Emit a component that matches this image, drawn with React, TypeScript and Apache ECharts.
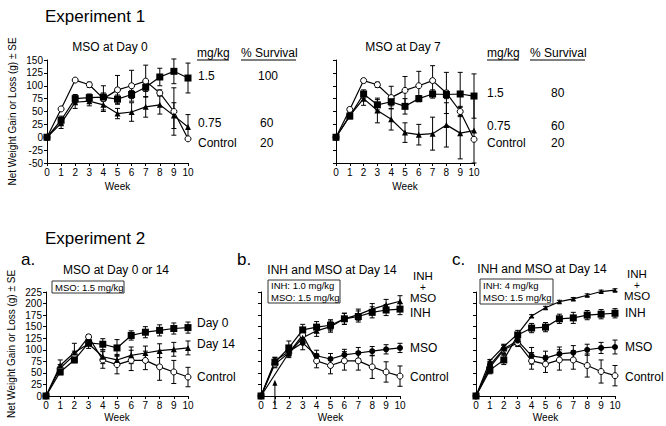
import React, { useEffect, useRef } from "react";
import * as echarts from "echarts";

const F = "'Liberation Sans', Arial, Helvetica, sans-serif";

const weeks = [0, 1, 2, 3, 4, 5, 6, 7, 8, 9, 10];

// Experiment 1 - MSO at Day 0
const e1d0High = [0, 33, 75, 77, 78, 74, 83, 97, 117, 128, 115];
const e1d0HighSE = [0, 8, 8, 7, 8, 8, 8, 8, 17, 24, 29];
const e1d0Low = [0, 27, 68, 70, 63, 46, 49, 59, 63, 42, 20];
const e1d0LowSE = [0, 10, 12, 9, 10, 10, 18, 20, 18, 25, 24];
const e1d0Ctrl = [0, 55, 111, 102, 75, 92, 100, 109, 86, 50, -3];
const e1d0CtrlSE = [0, 3, 3, 5, 25, 28, 30, 31, 6, 46, 0];

// Experiment 1 - MSO at Day 7
const e1d7High = [0, 41, 84, 63, 69, 60, 75, 84, 83, 84, 80];
const e1d7HighSE = [0, 5, 8, 10, 8, 15, 6, 8, 8, 42, 43];
const e1d7Low = [0, 42, 75, 52, 35, 9, 5, 7, 24, 8, 13];
const e1d7LowSE = [0, 5, 13, 24, 21, 19, 20, 32, 43, 50, 63];
const e1d7Ctrl = [0, 54, 110, 102, 77, 91, 100, 110, 86, 50, -4];
const e1d7CtrlSE = [0, 4, 3, 5, 22, 27, 28, 29, 40, 10, 0];

// Experiment 2a - MSO at Day 0 or 14
const e2aDay0 = [0, 52, 78, 115, 112, 104, 131, 138, 142, 146, 148];
const e2aDay0SE = [0, 6, 6, 5, 12, 18, 10, 12, 12, 12, 12];
const e2aDay14 = [0, 66, 94, 113, 85, 78, 88, 93, 98, 101, 104];
const e2aDay14SE = [0, 12, 20, 10, 15, 12, 18, 15, 15, 15, 15];
const e2aCtrl = [0, 60, 89, 128, 78, 68, 77, 77, 63, 52, 41];
const e2aCtrlSE = [0, 8, 8, 5, 18, 20, 22, 20, 29, 25, 21];

// Experiment 2b - INH 1.0 and MSO at Day 14
const e2bBoth = [0, null, 93, 126, 141, 150, 167, 176, 188, 197, 205];
const e2bBothSE = [0, 0, 10, 12, 12, 12, 12, 12, 12, 12, 12];
const e2bInh = [0, 73, 104, 143, 149, 153, 167, 172, 181, 186, 188];
const e2bInhSE = [0, 10, 15, 12, 12, 12, 12, 12, 12, 12, 12];
const e2bMso = [0, 76, 96, 115, 87, 80, 89, 93, 97, 101, 104];
const e2bMsoSE = [0, 8, 8, 15, 12, 12, 12, 12, 10, 10, 10];
const e2bCtrl = [0, 69, 93, 132, 76, 66, 76, 76, 63, 52, 43];
const e2bCtrlSE = [0, 8, 8, 5, 15, 18, 20, 20, 25, 22, 22];
const arrowMarks = [{ week: 1, value: 35 }];

// Experiment 2c - INH 4 and MSO at Day 14
const e2cBoth = [0, 76, 107, 134, 173, 191, 204, 210, 218, 226, 229];
const e2cBothSE = [0, 3, 3, 3, 3, 3, 3, 3, 3, 3, 3];
const e2cInh = [0, 56, 78, 132, 147, 149, 167, 169, 175, 177, 179];
const e2cInhSE = [0, 8, 10, 10, 10, 10, 10, 12, 10, 10, 10];
const e2cMso = [0, 67, 102, 120, 87, 82, 91, 94, 100, 104, 106];
const e2cMsoSE = [0, 8, 10, 10, 18, 15, 15, 15, 12, 12, 15];
const e2cCtrl = [0, 62, 100, 115, 76, 69, 78, 78, 66, 53, 44];
const e2cCtrlSE = [0, 8, 10, 8, 18, 18, 22, 20, 25, 25, 22];

type Sym = "rect" | "circle" | "open" | "triangle";

function lineSeries(grid: number, vals: (number | null)[], sym: Sym, size: number) {
  const open = sym === "open";
  return {
    type: "line",
    xAxisIndex: grid,
    yAxisIndex: grid,
    data: weeks.map((w, i) => [w, vals[i]]),
    symbol: open ? "circle" : sym,
    symbolSize: size,
    showSymbol: true,
    connectNulls: true,
    clip: false,
    lineStyle: { color: "#000", width: 1.2 },
    itemStyle: { color: open ? "#fff" : "#000", borderColor: "#000", borderWidth: open ? 1 : 0 },
    z: 3,
  };
}

function errSeries(grid: number, vals: (number | null)[], se: number[]) {
  const data = weeks
    .map((w, i) => [w, vals[i], se[i]])
    .filter((d) => d[1] !== null && (d[2] as number) > 0);
  return {
    type: "custom",
    xAxisIndex: grid,
    yAxisIndex: grid,
    data,
    encode: { x: 0, y: 1 },
    clip: false,
    z: 2,
    renderItem: (params: any, api: any) => {
      const x = api.value(0);
      const y = api.value(1);
      const e = api.value(2);
      const hi = api.coord([x, y + e]);
      const lo = api.coord([x, y - e]);
      const st = { stroke: "#000", lineWidth: 1 };
      const c = 2.5;
      return {
        type: "group",
        children: [
          { type: "line", shape: { x1: hi[0], y1: hi[1], x2: lo[0], y2: lo[1] }, style: st },
          { type: "line", shape: { x1: hi[0] - c, y1: hi[1], x2: hi[0] + c, y2: hi[1] }, style: st },
          { type: "line", shape: { x1: lo[0] - c, y1: lo[1], x2: lo[0] + c, y2: lo[1] }, style: st },
        ],
      };
    },
  };
}

function group(grid: number, vals: (number | null)[], se: number[], sym: Sym, size: number) {
  return [errSeries(grid, vals, se), lineSeries(grid, vals, sym, size)];
}

function txt(x: number, y: number, text: string, size: number, align = "left") {
  return {
    type: "text",
    x,
    y,
    style: { text, fontSize: size, fontFamily: F, fill: "#000", align, verticalAlign: "middle" },
  };
}

function uline(x1: number, x2: number, y: number) {
  return { type: "line", shape: { x1, y1: y, x2, y2: y }, style: { stroke: "#000", lineWidth: 1 } };
}

function box(x: number, y: number, w: number, h: number, lines: string[]) {
  const children: any[] = [
    { type: "rect", shape: { x, y, width: w, height: h }, style: { fill: "#fff", stroke: "#333", lineWidth: 1 } },
  ];
  const lh = h / lines.length;
  lines.forEach((l, i) => children.push(txt(x + 3, y + lh * i + lh / 2, l, 9.5)));
  return { type: "group", children };
}

const grids = [
  { left: 47, top: 60, width: 141, height: 103 },
  { left: 336, top: 60, width: 138, height: 103 },
  { left: 46, top: 292, width: 142, height: 104 },
  { left: 261, top: 292, width: 139, height: 104 },
  { left: 476, top: 292, width: 139, height: 104 },
];

const Y_NAME = "Net Weight Gain or Loss (g) ± SE";

export default function App() {
  const ref = useRef<HTMLDivElement>(null);
  useEffect(() => {
    if (!ref.current) return;
    const chart = echarts.init(ref.current, undefined, { renderer: "svg" });
    const top = (i: number) => i < 2;
    const xAxis = grids.map((g, i) => ({
      type: "value",
      gridIndex: i,
      min: 0,
      max: 10,
      interval: 1,
      name: "Week",
      nameLocation: "middle",
      nameGap: top(i) ? 18 : 16,
      nameTextStyle: { fontSize: 10, fontFamily: F, color: "#000" },
      axisLine: { show: true, onZero: false, lineStyle: { color: "#000", width: 1 } },
      axisTick: { show: true, length: 3, lineStyle: { color: "#000" } },
      axisLabel: { fontSize: 10, fontFamily: F, color: "#000", margin: 4 },
      splitLine: { show: false },
    }));
    const yAxis = grids.map((g, i) => ({
      type: "value",
      gridIndex: i,
      min: top(i) ? -50 : 0,
      max: top(i) ? 150 : 225,
      interval: 25,
      name: i === 0 || i === 2 ? Y_NAME : "",
      nameLocation: "middle",
      nameRotate: 90,
      nameGap: 30,
      nameTextStyle: { fontSize: 10, fontFamily: F, color: "#000" },
      axisLine: { show: true, onZero: false, lineStyle: { color: "#000", width: 1 } },
      axisTick: { show: true, length: 3, lineStyle: { color: "#000" } },
      axisLabel: { show: i === 0 || i === 2, fontSize: 10, fontFamily: F, color: "#000", margin: 4 },
      splitLine: { show: false },
    }));

    const arrowSeries = {
      type: "custom",
      xAxisIndex: 3,
      yAxisIndex: 3,
      data: arrowMarks.map((a) => [a.week, a.value]),
      encode: { x: 0, y: 1 },
      clip: false,
      z: 4,
      renderItem: (params: any, api: any) => {
        const base = api.coord([api.value(0), 0]);
        const tip = api.coord([api.value(0), api.value(1)]);
        return {
          type: "group",
          children: [
            { type: "line", shape: { x1: base[0], y1: base[1] + 9, x2: tip[0], y2: tip[1] + 3 }, style: { stroke: "#000", lineWidth: 1 } },
            {
              type: "polygon",
              shape: { points: [[tip[0], tip[1]], [tip[0] - 2.5, tip[1] + 6], [tip[0] + 2.5, tip[1] + 6]] },
              style: { fill: "#000" },
            },
          ],
        };
      },
    };

    const series: any[] = [
      ...group(0, e1d0Ctrl, e1d0CtrlSE, "open", 6),
      ...group(0, e1d0Low, e1d0LowSE, "triangle", 6),
      ...group(0, e1d0High, e1d0HighSE, "rect", 7),
      ...group(1, e1d7Ctrl, e1d7CtrlSE, "open", 6),
      ...group(1, e1d7Low, e1d7LowSE, "triangle", 6),
      ...group(1, e1d7High, e1d7HighSE, "rect", 7),
      ...group(2, e2aCtrl, e2aCtrlSE, "open", 6),
      ...group(2, e2aDay14, e2aDay14SE, "triangle", 6),
      ...group(2, e2aDay0, e2aDay0SE, "rect", 7),
      ...group(3, e2bCtrl, e2bCtrlSE, "open", 6),
      ...group(3, e2bMso, e2bMsoSE, "circle", 6),
      ...group(3, e2bInh, e2bInhSE, "rect", 7),
      ...group(3, e2bBoth, e2bBothSE, "triangle", 6),
      arrowSeries,
      ...group(4, e2cCtrl, e2cCtrlSE, "open", 6),
      ...group(4, e2cMso, e2cMsoSE, "circle", 6),
      ...group(4, e2cInh, e2cInhSE, "rect", 7),
      ...group(4, e2cBoth, e2cBothSE, "triangle", 5),
    ];

    const graphic: any[] = [
      txt(45, 16, "Experiment 1", 17),
      txt(110, 47, "MSO at Day 0", 12, "center"),
      txt(403, 47, "MSO at Day 7", 12, "center"),
      // legend panel 1
      txt(197, 53, "mg/kg", 12),
      uline(197, 229, 60),
      txt(241, 53, "% Survival", 12),
      uline(241, 296, 60),
      txt(198, 76, "1.5", 12),
      txt(258, 76, "100", 12),
      txt(198, 123, "0.75", 12),
      txt(260, 123, "60", 12),
      txt(198, 143, "Control", 12),
      txt(260, 143, "20", 12),
      // legend panel 2
      txt(487, 53, "mg/kg", 12),
      uline(487, 519, 60),
      txt(530, 53, "% Survival", 12),
      uline(530, 585, 60),
      txt(487, 93, "1.5", 12),
      txt(551, 93, "80", 12),
      txt(487, 126, "0.75", 12),
      txt(551, 126, "60", 12),
      txt(487, 143, "Control", 12),
      txt(551, 143, "20", 12),
      // Experiment 2
      txt(45, 238, "Experiment 2", 17),
      txt(21, 259, "a.", 17),
      txt(237, 259, "b.", 17),
      txt(452, 259, "c.", 17),
      txt(116, 270, "MSO at Day 0 or 14", 12, "center"),
      txt(332, 270, "INH and MSO at Day 14", 12, "center"),
      txt(542, 269, "INH and MSO at Day 14", 12, "center"),
      box(52, 281, 72, 12, ["MSO: 1.5 mg/kg"]),
      box(268, 280, 72, 23, ["INH: 1.0 mg/kg", "MSO: 1.5 mg/kg"]),
      box(480, 279, 73, 25, ["INH: 4 mg/kg", "MSO: 1.5 mg/kg"]),
      // panel a labels
      txt(197, 323, "Day 0", 12),
      txt(197, 344, "Day 14", 12),
      txt(197, 377, "Control", 12),
      // panel b labels
      txt(423, 276, "INH", 11.5, "center"),
      txt(423, 287, "+", 10, "center"),
      txt(423, 298, "MSO", 11.5, "center"),
      txt(410, 313, "INH", 12),
      txt(410, 348, "MSO", 12),
      txt(410, 377, "Control", 12),
      // panel c labels
      txt(637, 274, "INH", 11.5, "center"),
      txt(637, 285, "+", 10, "center"),
      txt(637, 296, "MSO", 11.5, "center"),
      txt(625, 313, "INH", 12),
      txt(625, 347, "MSO", 12),
      txt(625, 377, "Control", 12),
    ];

    chart.setOption({
      animation: false,
      backgroundColor: "#fff",
      textStyle: { fontFamily: F },
      grid: grids.map((g) => ({ ...g, containLabel: false })),
      xAxis,
      yAxis,
      series,
      graphic,
    });
    return () => chart.dispose();
  }, []);
  return (
    <div
      ref={ref}
      style={{ position: "fixed", left: 0, top: 0, width: 666, height: 426, background: "#fff" }}
    />
  );
}
